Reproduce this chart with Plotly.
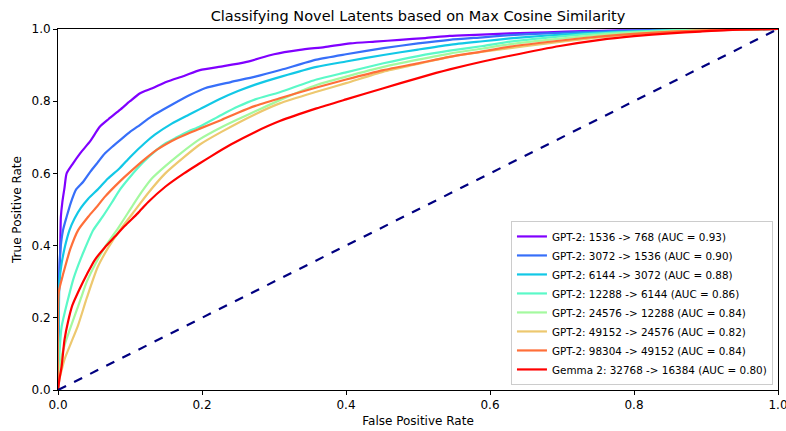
import plotly.graph_objects as go

labels = [
    "GPT-2: 1536 -> 768 (AUC = 0.93)",
    "GPT-2: 3072 -> 1536 (AUC = 0.90)",
    "GPT-2: 6144 -> 3072 (AUC = 0.88)",
    "GPT-2: 12288 -> 6144 (AUC = 0.86)",
    "GPT-2: 24576 -> 12288 (AUC = 0.84)",
    "GPT-2: 49152 -> 24576 (AUC = 0.82)",
    "GPT-2: 98304 -> 49152 (AUC = 0.84)",
    "Gemma 2: 32768 -> 16384 (AUC = 0.80)",
]
colors = ["#8000ff", "#376ff9", "#12c8e6", "#5bf9c8", "#a4f99f", "#edc86f", "#ff6f39", "#ff0000"]

fpr_1536 = [0, 0.001, 0.003, 0.004, 0.006, 0.009, 0.012, 0.02, 0.031, 0.045, 0.058, 0.07, 0.086, 0.10, 0.114, 0.13, 0.151, 0.175, 0.197, 0.23, 0.262, 0.30, 0.336, 0.37, 0.406, 0.44, 0.475, 0.51, 0.544, 0.58, 0.628, 0.68, 0.73, 0.78, 0.83, 0.88, 0.93, 1.0]
tpr_1536 = [0, 0.25, 0.38, 0.48, 0.52, 0.56, 0.60, 0.625, 0.656, 0.69, 0.729, 0.75, 0.776, 0.80, 0.822, 0.835, 0.854, 0.87, 0.886, 0.897, 0.909, 0.93, 0.942, 0.95, 0.960, 0.965, 0.970, 0.975, 0.981, 0.984, 0.988, 0.991, 0.994, 0.996, 0.997, 0.998, 0.999, 1.0]

fpr_3072 = [0, 0.001, 0.003, 0.007, 0.012, 0.018, 0.025, 0.035, 0.045, 0.055, 0.065, 0.076, 0.088, 0.1, 0.111, 0.13, 0.158, 0.183, 0.204, 0.24, 0.274, 0.31, 0.359, 0.40, 0.452, 0.50, 0.544, 0.59, 0.628, 0.68, 0.73, 0.78, 0.83, 0.88, 0.93, 1.0]
tpr_3072 = [0, 0.25, 0.38, 0.443, 0.48, 0.52, 0.555, 0.577, 0.605, 0.63, 0.655, 0.675, 0.695, 0.715, 0.73, 0.758, 0.79, 0.817, 0.836, 0.853, 0.868, 0.887, 0.915, 0.93, 0.947, 0.96, 0.970, 0.977, 0.983, 0.988, 0.992, 0.995, 0.997, 0.998, 0.999, 1.0]

fpr_6144 = [0, 0.001, 0.002, 0.005, 0.01, 0.016, 0.023, 0.032, 0.042, 0.055, 0.069, 0.086, 0.1, 0.121, 0.135, 0.158, 0.181, 0.197, 0.227, 0.25, 0.274, 0.31, 0.359, 0.40, 0.452, 0.50, 0.544, 0.59, 0.628, 0.68, 0.73, 0.78, 0.83, 0.88, 0.93, 1.0]
tpr_6144 = [0, 0.15, 0.30, 0.35, 0.40, 0.443, 0.475, 0.505, 0.53, 0.555, 0.585, 0.615, 0.645, 0.685, 0.708, 0.738, 0.762, 0.778, 0.808, 0.828, 0.846, 0.868, 0.895, 0.91, 0.928, 0.943, 0.956, 0.966, 0.974, 0.982, 0.988, 0.992, 0.995, 0.997, 0.999, 1.0]

fpr_12288 = [0, 0.002, 0.005, 0.01, 0.015, 0.021, 0.028, 0.036, 0.049, 0.062, 0.075, 0.086, 0.1, 0.118, 0.137, 0.149, 0.165, 0.181, 0.197, 0.227, 0.25, 0.274, 0.308, 0.359, 0.40, 0.452, 0.50, 0.544, 0.59, 0.628, 0.68, 0.73, 0.78, 0.83, 0.88, 0.93, 1.0]
tpr_12288 = [0, 0.10, 0.175, 0.22, 0.26, 0.305, 0.345, 0.385, 0.443, 0.48, 0.52, 0.555, 0.59, 0.63, 0.665, 0.683, 0.70, 0.716, 0.73, 0.762, 0.785, 0.805, 0.825, 0.86, 0.88, 0.905, 0.925, 0.94, 0.953, 0.965, 0.976, 0.985, 0.991, 0.995, 0.998, 0.999, 1.0]

fpr_24576 = [0, 0.002, 0.005, 0.01, 0.016, 0.024, 0.032, 0.04, 0.052, 0.065, 0.084, 0.105, 0.116, 0.13, 0.149, 0.17, 0.197, 0.227, 0.25, 0.274, 0.308, 0.359, 0.40, 0.452, 0.50, 0.544, 0.59, 0.628, 0.68, 0.73, 0.78, 0.83, 0.88, 0.93, 1.0]
tpr_24576 = [0, 0.05, 0.092, 0.13, 0.165, 0.21, 0.255, 0.30, 0.35, 0.395, 0.45, 0.515, 0.548, 0.585, 0.62, 0.655, 0.695, 0.728, 0.75, 0.772, 0.803, 0.845, 0.868, 0.895, 0.915, 0.932, 0.946, 0.958, 0.97, 0.98, 0.988, 0.993, 0.996, 0.998, 1.0]

fpr_49152 = [0, 0.002, 0.005, 0.01, 0.018, 0.028, 0.04, 0.055, 0.07, 0.086, 0.109, 0.125, 0.149, 0.175, 0.197, 0.227, 0.274, 0.308, 0.359, 0.40, 0.452, 0.50, 0.544, 0.59, 0.628, 0.68, 0.73, 0.78, 0.83, 0.88, 0.93, 1.0]
tpr_49152 = [0, 0.03, 0.055, 0.09, 0.13, 0.18, 0.255, 0.34, 0.395, 0.443, 0.503, 0.545, 0.6, 0.645, 0.68, 0.715, 0.764, 0.794, 0.826, 0.85, 0.882, 0.903, 0.923, 0.937, 0.947, 0.96, 0.972, 0.982, 0.99, 0.995, 0.998, 1.0]

fpr_98304 = [0, 0.001, 0.005, 0.01, 0.017, 0.028, 0.042, 0.055, 0.065, 0.086, 0.098, 0.121, 0.137, 0.158, 0.18, 0.197, 0.227, 0.25, 0.274, 0.308, 0.359, 0.40, 0.452, 0.50, 0.544, 0.59, 0.628, 0.68, 0.73, 0.78, 0.83, 0.88, 0.93, 1.0]
tpr_98304 = [0, 0.27, 0.305, 0.342, 0.39, 0.443, 0.48, 0.51, 0.535, 0.578, 0.60, 0.64, 0.665, 0.69, 0.71, 0.724, 0.748, 0.768, 0.787, 0.808, 0.838, 0.86, 0.886, 0.905, 0.923, 0.938, 0.951, 0.964, 0.975, 0.984, 0.99, 0.995, 0.998, 1.0]

fpr_gemma = [0, 0.002, 0.005, 0.009, 0.014, 0.02, 0.03, 0.04, 0.051, 0.065, 0.079, 0.093, 0.111, 0.125, 0.149, 0.175, 0.197, 0.213, 0.24, 0.274, 0.308, 0.359, 0.40, 0.452, 0.50, 0.544, 0.59, 0.628, 0.697, 0.753, 0.80, 0.85, 0.892, 0.93, 1.0]
tpr_gemma = [0, 0.03, 0.065, 0.139, 0.19, 0.235, 0.28, 0.32, 0.36, 0.395, 0.425, 0.455, 0.49, 0.52, 0.563, 0.60, 0.628, 0.648, 0.68, 0.715, 0.745, 0.78, 0.805, 0.836, 0.864, 0.888, 0.91, 0.926, 0.953, 0.97, 0.98, 0.988, 0.993, 0.997, 1.0]

diag = [0, 1]

series = [
    (fpr_1536, tpr_1536), (fpr_3072, tpr_3072), (fpr_6144, tpr_6144), (fpr_12288, tpr_12288),
    (fpr_24576, tpr_24576), (fpr_49152, tpr_49152), (fpr_98304, tpr_98304), (fpr_gemma, tpr_gemma),
]

fig = go.Figure()
for (fx, ty), name, col in zip(series, labels, colors):
    fig.add_trace(go.Scatter(x=fx, y=ty, mode="lines", name=name,
                             line=dict(color=col, width=2.2, shape="spline", smoothing=0.6)))
fig.add_trace(go.Scatter(x=diag, y=diag, mode="lines", showlegend=False,
                         line=dict(color="navy", width=2.2, dash="dash")))

font_family = "DejaVu Sans"
axis_common = dict(
    range=[0, 1], tickvals=[0, 0.2, 0.4, 0.6, 0.8, 1.0],
    ticktext=["0.0", "0.2", "0.4", "0.6", "0.8", "1.0"],
    showgrid=False, zeroline=False, showline=True, mirror=True, automargin=False,
    ticklabeloverflow="allow",
    linecolor="black", linewidth=1, ticks="outside", ticklen=4, tickwidth=1,
    tickcolor="black", tickfont=dict(family=font_family, size=12, color="black"),
)
fig.update_layout(
    width=786, height=431,
    margin=dict(l=58, r=8, t=29, b=41),
    paper_bgcolor="white", plot_bgcolor="white",
    font=dict(family=font_family, color="black"),
    title=dict(text="Classifying Novel Latents based on Max Cosine Similarity",
               x=(58 + 778) / 2 / 786, xanchor="center", y=1 - 16 / 431, yanchor="middle",
               font=dict(family=font_family, size=14.5, color="black")),
    xaxis=dict(**axis_common, title=dict(text="False Positive Rate", standoff=5,
                                         font=dict(family=font_family, size=12))),
    yaxis=dict(**axis_common, title=dict(text="True Positive Rate", standoff=7,
                                         font=dict(family=font_family, size=12))),
    legend=dict(x=0.993, y=0.014, xanchor="right", yanchor="bottom",
                bgcolor="rgba(255,255,255,0.8)", bordercolor="#cccccc", borderwidth=1,
                font=dict(family=font_family, size=10.4, color="black"),
                tracegroupgap=0),
)
fig.write_html("out.html")
